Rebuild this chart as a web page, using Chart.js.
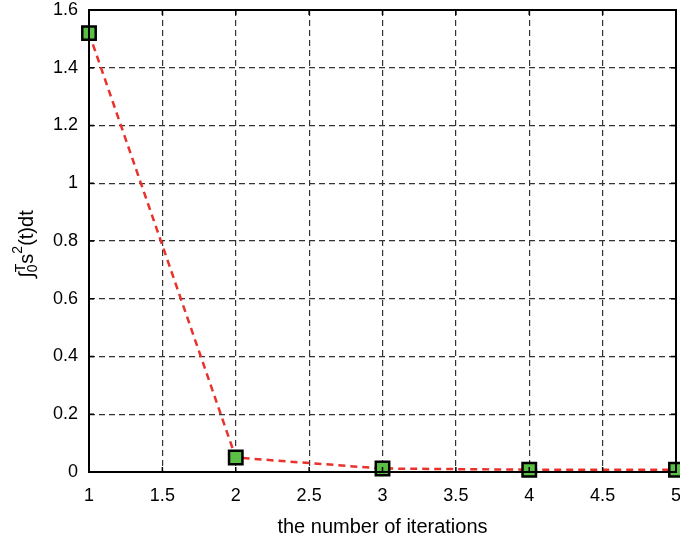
<!DOCTYPE html>
<html>
<head>
<meta charset="utf-8">
<script src="https://cdn.jsdelivr.net/npm/chart.js@4/dist/chart.umd.min.js"></script>
<style>
  html, body { margin: 0; padding: 0; background: #fff; }
  #wrap { width: 680px; height: 542px; }
</style>
</head>
<body>
<div id="wrap"><canvas id="chart" width="680" height="542"></canvas></div>
<script>
// Iterations and the integral of s^2(t) at each one
const iterations = [1, 2, 3, 4, 5];
const integralValues = [1.52, 0.05, 0.012, 0.008, 0.008];

const xTicks = [1, 1.5, 2, 2.5, 3, 3.5, 4, 4.5, 5];
const yTicks = [0, 0.2, 0.4, 0.6, 0.8, 1, 1.2, 1.4, 1.6];

const FONT = 'Liberation Sans, Arial, sans-serif';

// Solid black frame round the plot area, with short inward ticks
const framePlugin = {
  id: 'frame',
  afterDraw(chart) {
    const a = chart.chartArea;
    const ctx = chart.ctx;
    const xs = chart.scales.x, ys = chart.scales.y;
    ctx.save();
    ctx.strokeStyle = '#000';
    ctx.setLineDash([]);
    ctx.lineWidth = 1.5;
    ctx.beginPath();
    xTicks.forEach(v => {
      const px = xs.getPixelForValue(v);
      ctx.moveTo(px, a.bottom); ctx.lineTo(px, a.bottom - 5);
      ctx.moveTo(px, a.top); ctx.lineTo(px, a.top + 5);
    });
    yTicks.forEach(v => {
      const py = ys.getPixelForValue(v);
      ctx.moveTo(a.left, py); ctx.lineTo(a.left + 5, py);
      ctx.moveTo(a.right, py); ctx.lineTo(a.right - 5, py);
    });
    ctx.stroke();
    ctx.lineWidth = 2;
    ctx.strokeRect(a.left, a.top, a.right - a.left, a.bottom - a.top);
    ctx.restore();
  }
};

// Y axis label: integral from 0 to T of s^2(t) dt, rotated
const yLabelPlugin = {
  id: 'yLabel',
  afterDraw(chart) {
    const ctx = chart.ctx;
    ctx.save();
    ctx.translate(33, 244);
    ctx.rotate(-Math.PI / 2);
    ctx.fillStyle = '#000';
    ctx.textBaseline = 'alphabetic';
    const big = '20px ' + FONT;
    const small = '14px ' + FONT;
    ctx.font = big;
    const wInt = ctx.measureText('\u222B').width;
    ctx.font = small;
    const wLim = Math.max(ctx.measureText('T').width, ctx.measureText('0').width);
    ctx.font = big;
    const wS = ctx.measureText('s').width;
    ctx.font = small;
    const w2 = ctx.measureText('2').width;
    ctx.font = big;
    const wRest = ctx.measureText('(t)dt').width;
    const total = wInt + wLim + wS + w2 + wRest;
    let x = -total / 2;
    ctx.font = big;
    ctx.fillText('\u222B', x, 0);
    x += wInt;
    ctx.font = small;
    ctx.fillText('T', x, -8);
    ctx.fillText('0', x, 4);
    x += wLim;
    ctx.font = big;
    ctx.fillText('s', x, 0);
    x += wS;
    ctx.font = small;
    ctx.fillText('2', x, -11);
    x += w2;
    ctx.font = big;
    ctx.fillText('(t)dt', x, 0);
    ctx.restore();
  }
};

const ctx = document.getElementById('chart').getContext('2d');
new Chart(ctx, {
  type: 'line',
  data: {
    datasets: [{
      data: iterations.map((it, i) => ({ x: it, y: integralValues[i] })),
      borderColor: '#e8322b',
      borderWidth: 2.5,
      borderDash: [7, 5],
      pointStyle: 'rect',
      pointRadius: 9.5,
      pointHoverRadius: 9.5,
      pointBackgroundColor: '#5cbf45',
      pointBorderColor: '#000',
      pointBorderWidth: 2.5,
      tension: 0,
      fill: false,
      clip: false
    }]
  },
  options: {
    responsive: false,
    animation: false,
    events: [],
    layout: { autoPadding: false, padding: { top: 10, right: 4, left: 0, bottom: 0 } },
    plugins: {
      legend: { display: false },
      tooltip: { enabled: false }
    },
    scales: {
      x: {
        type: 'linear',
        min: 1,
        max: 5,
        afterBuildTicks: s => { s.ticks = xTicks.map(v => ({ value: v })); },
        afterFit: s => { s.height = 70; s.paddingLeft = 0; s.paddingRight = 0; },
        grid: { color: '#333', lineWidth: 1.2, drawTicks: false },
        border: { display: false, dash: [6, 4] },
        ticks: {
          color: '#000', padding: 13, maxRotation: 0,
          font: { family: FONT, size: 18 },
          callback: v => String(v)
        },
        title: {
          display: true,
          text: 'the number of iterations',
          color: '#000',
          font: { family: FONT, size: 20 },
          padding: { top: 2, bottom: 3 }
        }
      },
      y: {
        type: 'linear',
        min: 0,
        max: 1.6,
        afterBuildTicks: s => { s.ticks = yTicks.map(v => ({ value: v })); },
        afterFit: s => { s.width = 89; s.paddingTop = 0; s.paddingBottom = 0; },
        grid: { color: '#333', lineWidth: 1.2, drawTicks: false },
        border: { display: false, dash: [6, 4] },
        ticks: {
          color: '#000', padding: 11,
          font: { family: FONT, size: 18 },
          callback: v => String(v)
        }
      }
    }
  },
  plugins: [framePlugin, yLabelPlugin]
});
</script>
</body>
</html>
